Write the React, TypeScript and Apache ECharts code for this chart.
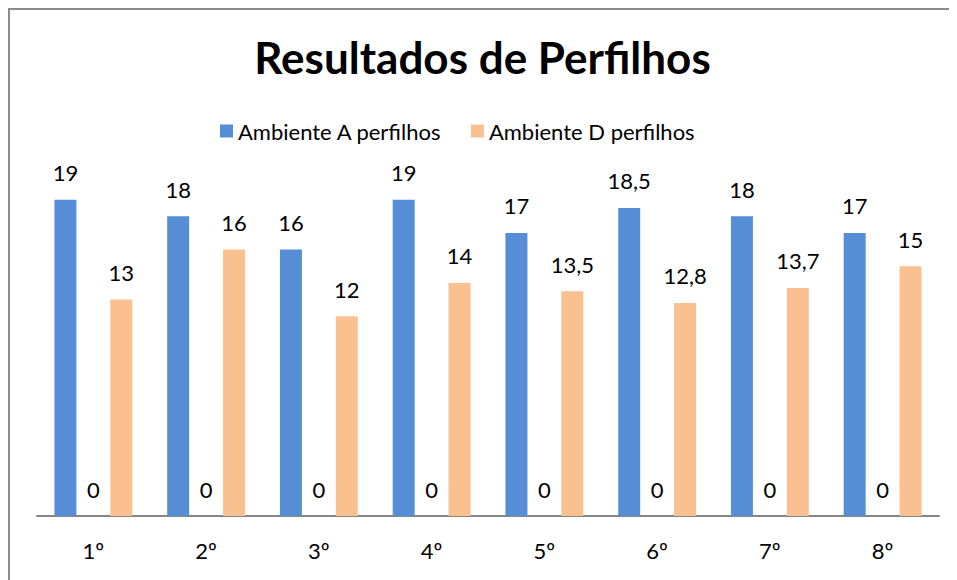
import React, { useEffect, useRef } from "react";
import * as echarts from "echarts";

const categories = ["1º", "2º", "3º", "4º", "5º", "6º", "7º", "8º"];
const ambienteA = [19, 18, 16, 19, 17, 18.5, 18, 17];
const serieZero = [0, 0, 0, 0, 0, 0, 0, 0];
const ambienteD = [13, 16, 12, 14, 13.5, 12.8, 13.7, 15];

const FONT = "Lato";
const fmt = (p: any) => String(p.value).replace(".", ",");

export default function App() {
  const ref = useRef<HTMLDivElement>(null);
  useEffect(() => {
    if (!ref.current) return;
    const chart = echarts.init(ref.current, null, { renderer: "svg" });
    const label = {
      show: true,
      position: "top",
      distance: 16,
      formatter: fmt,
      color: "#000",
      fontFamily: FONT,
      fontSize: 22,
    };
    chart.setOption({
      animation: false,
      backgroundColor: "#fff",
      textStyle: { fontFamily: FONT },
      title: {
        text: "Resultados de Perfilhos",
        left: "center",
        top: 22,
        textStyle: { fontFamily: FONT, fontWeight: "bold", fontSize: 44, color: "#000" },
      },
      legend: {
        data: ["Ambiente A perfilhos", "Ambiente D perfilhos"],
        top: 107,
        left: 207,
        itemWidth: 13,
        itemHeight: 13,
        itemGap: 29,
        icon: "rect",
        textStyle: { fontFamily: FONT, fontSize: 22, color: "#000" },
      },
      grid: { left: 29, right: 18, top: 175, bottom: 64 },
      xAxis: {
        type: "category",
        data: categories,
        axisLine: { lineStyle: { color: "#868686", width: 2 } },
        axisTick: { show: false },
        axisLabel: { color: "#000", fontFamily: FONT, fontSize: 22, margin: 23 },
      },
      yAxis: {
        type: "value",
        min: 0,
        max: 20,
        show: false,
        splitLine: { show: false },
      },
      graphic: [
        {
          type: "polyline",
          shape: { points: [[1, 600], [1, 1], [1000, 1]] },
          style: { stroke: "#8c8c8c", lineWidth: 2, fill: "none" },
          silent: true,
        },
      ],
      series: [
        {
          name: "Ambiente A perfilhos",
          type: "bar",
          data: ambienteA,
          barWidth: 22,
          barGap: "27%",
          barCategoryGap: "31%",
          itemStyle: { color: "#558ED5" },
          label,
        },
        {
          name: "Série3",
          type: "bar",
          data: serieZero,
          barWidth: 22,
          barGap: "27%",
          itemStyle: { color: "transparent" },
          label,
        },
        {
          name: "Ambiente D perfilhos",
          type: "bar",
          data: ambienteD,
          barWidth: 22,
          barGap: "27%",
          itemStyle: { color: "#FAC090" },
          label,
        },
      ],
    });
    return () => chart.dispose();
  }, []);
  return <div ref={ref} style={{ width: 949, height: 572 }} />;
}
